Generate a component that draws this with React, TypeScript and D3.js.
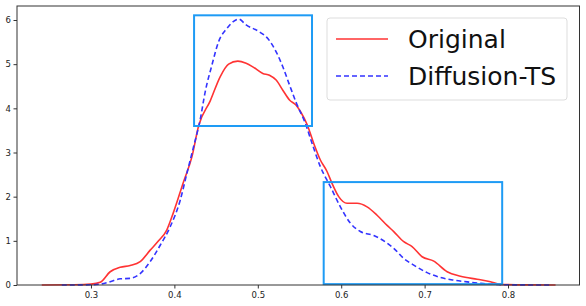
import React, { useEffect, useRef } from 'react';
import * as d3 from 'd3';

// KDE curves: [x, density]
const originalCurve: [number, number][] = [
    [0.241, 0], [0.28, 0.005], [0.3, 0.02], [0.311, 0.06], [0.323, 0.3], [0.335, 0.4],
    [0.347, 0.44], [0.359, 0.53], [0.371, 0.79], [0.381, 1.0], [0.391, 1.25],
    [0.399, 1.65], [0.411, 2.34], [0.421, 2.9], [0.429, 3.6], [0.443, 4.17],
    [0.455, 4.72], [0.465, 5.0], [0.476, 5.07], [0.486, 5.02], [0.494, 4.94],
    [0.506, 4.79], [0.514, 4.75], [0.522, 4.64], [0.53, 4.41], [0.538, 4.19],
    [0.546, 4.07], [0.552, 3.9], [0.559, 3.64], [0.567, 3.21], [0.575, 2.83],
    [0.583, 2.57], [0.589, 2.3], [0.597, 2.0], [0.607, 1.85], [0.619, 1.85],
    [0.631, 1.77], [0.643, 1.58], [0.655, 1.35], [0.663, 1.21], [0.675, 0.98],
    [0.685, 0.87], [0.697, 0.64], [0.711, 0.54], [0.727, 0.3], [0.743, 0.2],
    [0.763, 0.13], [0.779, 0.075], [0.79, 0.015], [0.82, 0.003], [0.857, 0]
];

const diffusionCurve: [number, number][] = [
    [0.265, 0], [0.3, 0.005], [0.311, 0.02], [0.323, 0.075], [0.335, 0.14],
    [0.347, 0.15], [0.359, 0.26], [0.371, 0.53], [0.383, 0.9], [0.395, 1.32],
    [0.407, 1.92], [0.415, 2.53], [0.423, 3.13], [0.431, 3.75], [0.437, 4.38],
    [0.445, 4.98], [0.453, 5.51], [0.463, 5.81], [0.471, 5.97], [0.477, 6.02],
    [0.486, 5.89], [0.502, 5.73], [0.512, 5.58], [0.522, 5.28], [0.53, 4.94],
    [0.538, 4.53], [0.546, 4.13], [0.557, 3.66], [0.565, 3.21], [0.575, 2.68],
    [0.587, 2.23], [0.599, 1.77], [0.611, 1.4], [0.623, 1.21], [0.639, 1.12],
    [0.655, 0.95], [0.663, 0.83], [0.675, 0.6], [0.687, 0.45], [0.703, 0.28],
    [0.719, 0.17], [0.735, 0.11], [0.751, 0.07], [0.767, 0.04], [0.783, 0.015],
    [0.81, 0.003], [0.852, 0]
];

// highlight boxes: [x0, x1, y0, y1]
const highlightBoxes: [number, number, number, number][] = [
    [0.4236, 0.565, 3.6, 6.106],
    [0.579, 0.793, 0.02, 2.33]
];

const xTicks = [0.3, 0.4, 0.5, 0.6, 0.7, 0.8];
const yTicks = [0, 1, 2, 3, 4, 5, 6];
const seriesNames = ['Original', 'Diffusion-TS'];

const W = 586;
const H = 306;

export default function App() {
    const svgRef = useRef<SVGSVGElement>(null);

    useEffect(() => {
        if (!svgRef.current) return;
        const svg = d3.select(svgRef.current);
        svg.selectAll('*').remove();

        const left = 17, right = 579.5, top = 6, bottom = 285;

        const x = d3.scaleLinear().domain([0.2113, 0.8857]).range([left, right]);
        const y = d3.scaleLinear().domain([0, 6.317]).range([bottom, top]);

        svg.append('rect').attr('width', W).attr('height', H).attr('fill', '#fff');

        const line = d3.line<[number, number]>()
            .x(d => x(d[0]))
            .y(d => y(d[1]))
            .curve(d3.curveMonotoneX);

        svg.append('path')
            .attr('d', line(originalCurve))
            .attr('fill', 'none')
            .attr('stroke', '#ff3333')
            .attr('stroke-width', 1.6);

        svg.append('path')
            .attr('d', line(diffusionCurve))
            .attr('fill', 'none')
            .attr('stroke', '#3333ff')
            .attr('stroke-width', 1.6)
            .attr('stroke-dasharray', '5,3');

        // boxes
        highlightBoxes.forEach(b => {
            svg.append('rect')
                .attr('x', x(b[0]))
                .attr('y', y(b[3]))
                .attr('width', x(b[1]) - x(b[0]))
                .attr('height', y(b[2]) - y(b[3]))
                .attr('fill', 'none')
                .attr('stroke', '#1e9bf5')
                .attr('stroke-width', 2);
        });

        // axes
        const xAxis = svg.append('g')
            .attr('transform', `translate(0,${bottom})`)
            .call(d3.axisBottom(x).tickValues(xTicks).tickSize(3.5).tickPadding(3).tickFormat(d3.format('.1f')));
        const yAxis = svg.append('g')
            .attr('transform', `translate(${left},0)`)
            .call(d3.axisLeft(y).tickValues(yTicks).tickSize(3.5).tickPadding(2.5).tickFormat(d3.format('d')));

        [xAxis, yAxis].forEach(a => {
            a.select('.domain').remove();
            a.selectAll('line').attr('stroke', '#333');
            a.selectAll('text')
                .attr('fill', '#222')
                .style('font-family', 'DejaVu Sans')
                .style('font-size', '8.5px');
        });

        // frame
        svg.append('rect')
            .attr('x', left)
            .attr('y', top)
            .attr('width', right - left)
            .attr('height', bottom - top)
            .attr('fill', 'none')
            .attr('stroke', '#333')
            .attr('stroke-width', 1);

        // legend
        const lg = svg.append('g');
        lg.append('rect')
            .attr('x', 327).attr('y', 18)
            .attr('width', 240).attr('height', 82)
            .attr('rx', 3)
            .attr('fill', '#fff').attr('fill-opacity', 0.8)
            .attr('stroke', '#ddd');
        const styles = [
            { color: '#ff3333', dash: null },
            { color: '#3333ff', dash: '5,3' }
        ];
        seriesNames.forEach((name, i) => {
            const cy = 39 + i * 37;
            const l = lg.append('line')
                .attr('x1', 336).attr('x2', 388)
                .attr('y1', cy).attr('y2', cy)
                .attr('stroke', styles[i].color)
                .attr('stroke-width', 1.6);
            if (styles[i].dash) l.attr('stroke-dasharray', styles[i].dash);
            lg.append('text')
                .attr('x', 408)
                .attr('y', cy + 9)
                .style('font-family', 'DejaVu Sans')
                .style('font-size', '25px')
                .attr('fill', '#111')
                .text(name);
        });
    }, []);

    return (
        <svg
            ref={svgRef}
            width={W}
            height={H}
            style={{ position: 'absolute', left: 0, top: 0 }}
        />
    );
}
